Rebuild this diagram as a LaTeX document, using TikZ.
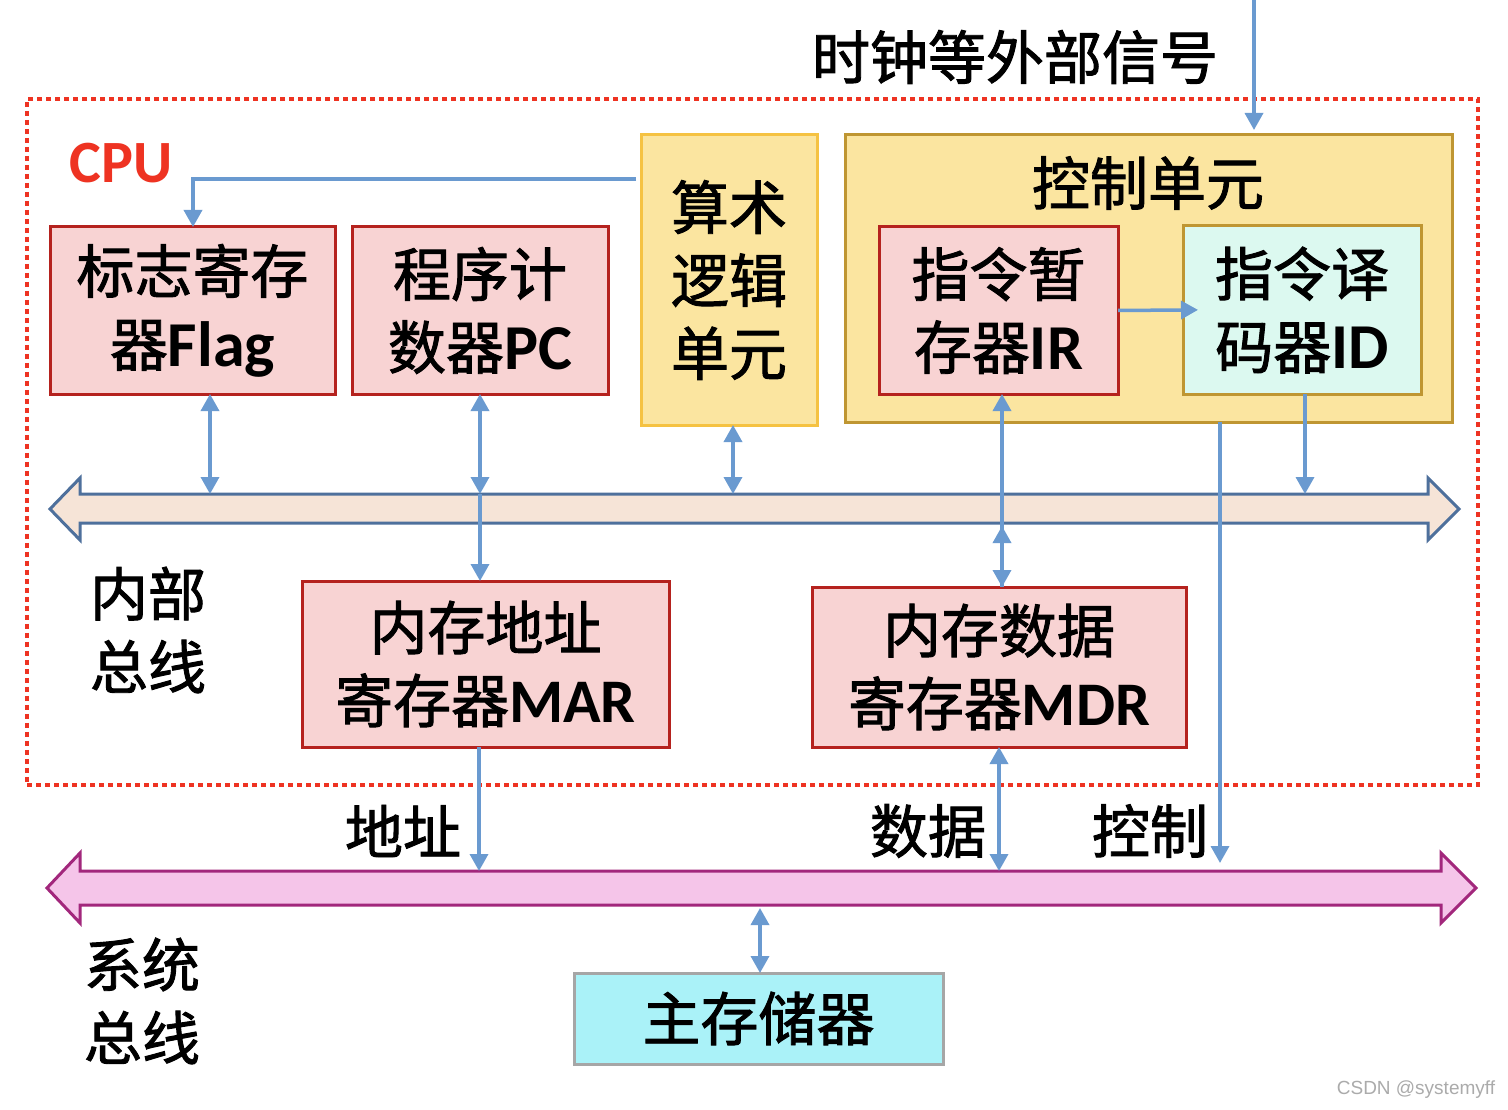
\documentclass[tikz,border=0pt]{standalone}
\usepackage{fontspec}
\newfontfamily\cjk{Noto Sans CJK SC}[FakeBold=1.6]
\newfontfamily\lat{Carlito}
\newfontfamily\wm{Liberation Sans}
\usetikzlibrary{arrows.meta,calc}
\definecolor{boxpink}{HTML}{F8D3D3}
\definecolor{boxred}{HTML}{B5221E}
\definecolor{aluyel}{HTML}{FBE5A0}
\definecolor{aluedge}{HTML}{F5C242}
\definecolor{cuedge}{HTML}{BF9632}
\definecolor{idfill}{HTML}{DCF9F0}
\definecolor{memfill}{HTML}{AAF2F8}
\definecolor{memedge}{HTML}{A6A6A6}
\definecolor{conblue}{HTML}{6A9AD0}
\definecolor{ibfill}{HTML}{F6E4D7}
\definecolor{ibedge}{HTML}{4E709C}
\definecolor{sbfill}{HTML}{F5C5E9}
\definecolor{sbedge}{HTML}{A2277C}
\definecolor{cpured}{HTML}{EE3322}
\newcommand\lt[2][64]{{\lat\bfseries\fontsize{#1}{73}\selectfont #2}}
\begin{document}
\begin{tikzpicture}[x=1pt,y=-1pt,
  big/.style={font=\cjk\fontsize{58}{73}\selectfont, align=center},
  regbox/.style={big, draw=boxred, fill=boxpink, line width=3pt, inner sep=0pt, outer sep=0pt, anchor=north west},
  alubox/.style={big, draw=aluedge, fill=aluyel, line width=3pt, inner sep=0pt, outer sep=0pt, anchor=north west},
  cubox/.style={draw=cuedge, fill=aluyel, line width=3pt, inner sep=0pt, outer sep=0pt, anchor=north west},
  idbox/.style={big, draw=cuedge, fill=idfill, line width=3pt, inner sep=0pt, outer sep=0pt, anchor=north west},
  membox/.style={big, draw=memedge, fill=memfill, line width=3pt, inner sep=0pt, outer sep=0pt, anchor=north west},
  lbl/.style={big},
  ar/.style={draw=conblue, line width=3.5pt, -{Triangle[length=17pt,width=18pt]}},
  bi/.style={draw=conblue, line width=3.5pt, {Triangle[length=17pt,width=18pt]}-{Triangle[length=17pt,width=18pt]}}
]
\useasboundingbox (0,0) rectangle (1508,1110);
\fill[white] (0,0) rectangle (1508,1110);

% CPU boundary
\node[draw=cpured, line width=4pt, dash pattern=on 5pt off 4pt, minimum width=1451pt, minimum height=686pt, inner sep=0pt, anchor=north west] (cpu) at (25,97) {};
\node[font=\lat\bfseries\fontsize{60}{70}\selectfont, text=cpured] (cpulbl) at (121,163) {CPU};

% boxes
\node[regbox, minimum width=285pt, minimum height=167pt] (flag) at (50,227) {标志寄存\\器\lt{Flag}};
\node[regbox, minimum width=256pt, minimum height=167pt] (pc) at (352,227) {程序计\\数器\lt{PC}};
\node[alubox, minimum width=176pt, minimum height=290pt] (alu) at (641,135) {算术\\逻辑\\单元};
\node[cubox, minimum width=607pt, minimum height=287pt] (cu) at (845,135) {};
\node[lbl] (cutxt) at (1148,183) {控制单元};
\node[regbox, minimum width=239pt, minimum height=167pt] (ir) at (879,227) {指令暂\\存器\lt{IR}};
\node[idbox, minimum width=238pt, minimum height=168pt] (id) at (1183,226) {指令译\\码器\lt{ID}};
\node[regbox, minimum width=367pt, minimum height=166pt] (mar) at (302,581) {内存地址\\寄存器\lt[62]{MAR}};
\node[regbox, minimum width=374pt, minimum height=160pt] (mdr) at (812,587) {内存数据\\寄存器\lt[62]{MDR}};
\node[membox, minimum width=369pt, minimum height=91pt] (mem) at (574,973) {主存储器};

% buses
\filldraw[fill=ibfill, draw=ibedge, line width=3pt, line join=miter]
  (50,509) -- (80,478) -- (80,494) -- (1428,494) -- (1428,478) -- (1459,509)
  -- (1428,540) -- (1428,523) -- (80,523) -- (80,540) -- cycle;
\filldraw[fill=sbfill, draw=sbedge, line width=3pt, line join=miter]
  (47,888) -- (80,853) -- (80,871) -- (1441,871) -- (1441,853) -- (1476,888)
  -- (1441,923) -- (1441,905) -- (80,905) -- (80,923) -- cycle;
\coordinate (ibT) at (0,494);
\coordinate (ibB) at (0,523);
\coordinate (sbT) at (0,871);
\coordinate (sbB) at (0,905);

% labels
\node[lbl] (clktxt) at (1015,57) {时钟等外部信号};
\node[lbl] (ibus) at (148,630) {内部\\总线};
\node[lbl] (sbus) at (142,1001) {系统\\总线};
\node[lbl] (addr) at (403,831) {地址};
\node[lbl] (data) at (928,831) {数据};
\node[lbl] (ctrl) at (1150,831) {控制};
\node[font=\wm\fontsize{19}{22}\selectfont, text=black!33] (wmk) at (1416,1090) {CSDN @systemyff};

% column coordinates
\coordinate (kA) at (193,179);
\coordinate (cF) at (210,0);
\coordinate (cP) at (480,0);
\coordinate (cA) at (733,0);
\coordinate (cI) at (1002,0);
\coordinate (cD) at (1305,0);
\coordinate (cC) at (1220,0);
\coordinate (cM) at (479,0);
\coordinate (cMd) at (999,0);
\coordinate (cMem) at (760,0);
\coordinate (clk) at (1254,0);

% connectors
\draw[ar, shorten <=5pt] (alu.west |- kA) -- (kA) -- (kA |- flag.north);
\draw[bi] (cF |- flag.south) -- (cF |- ibT);
\draw[bi] (cP |- pc.south) -- (cP |- ibT);
\draw[ar] (cP |- ibT) -- (cP |- mar.north);
\draw[bi] (cA |- alu.south) -- (cA |- ibT);
\draw[ar] (cI |- mdr.north) -- (cI |- ir.south);
\draw[bi] ($(cI |- ibB)+(0,3)$) -- (cI |- mdr.north);
\draw[ar] (cD |- id.south) -- (cD |- ibT);
\draw[ar, shorten >=8pt] (cC |- cu.south) -- (cC |- sbT);
\draw[ar, shorten >=-15pt] (ir.east) -- (id.west);
\draw[ar, shorten >=5pt] (clk) -- (clk |- cu.north);
\draw[ar] (cM |- mar.south) -- (cM |- sbT);
\draw[bi] (cMd |- mdr.south) -- (cMd |- sbT);
\draw[bi] ($(cMem |- sbB)+(0,3)$) -- (cMem |- mem.north);
\end{tikzpicture}
\end{document}
